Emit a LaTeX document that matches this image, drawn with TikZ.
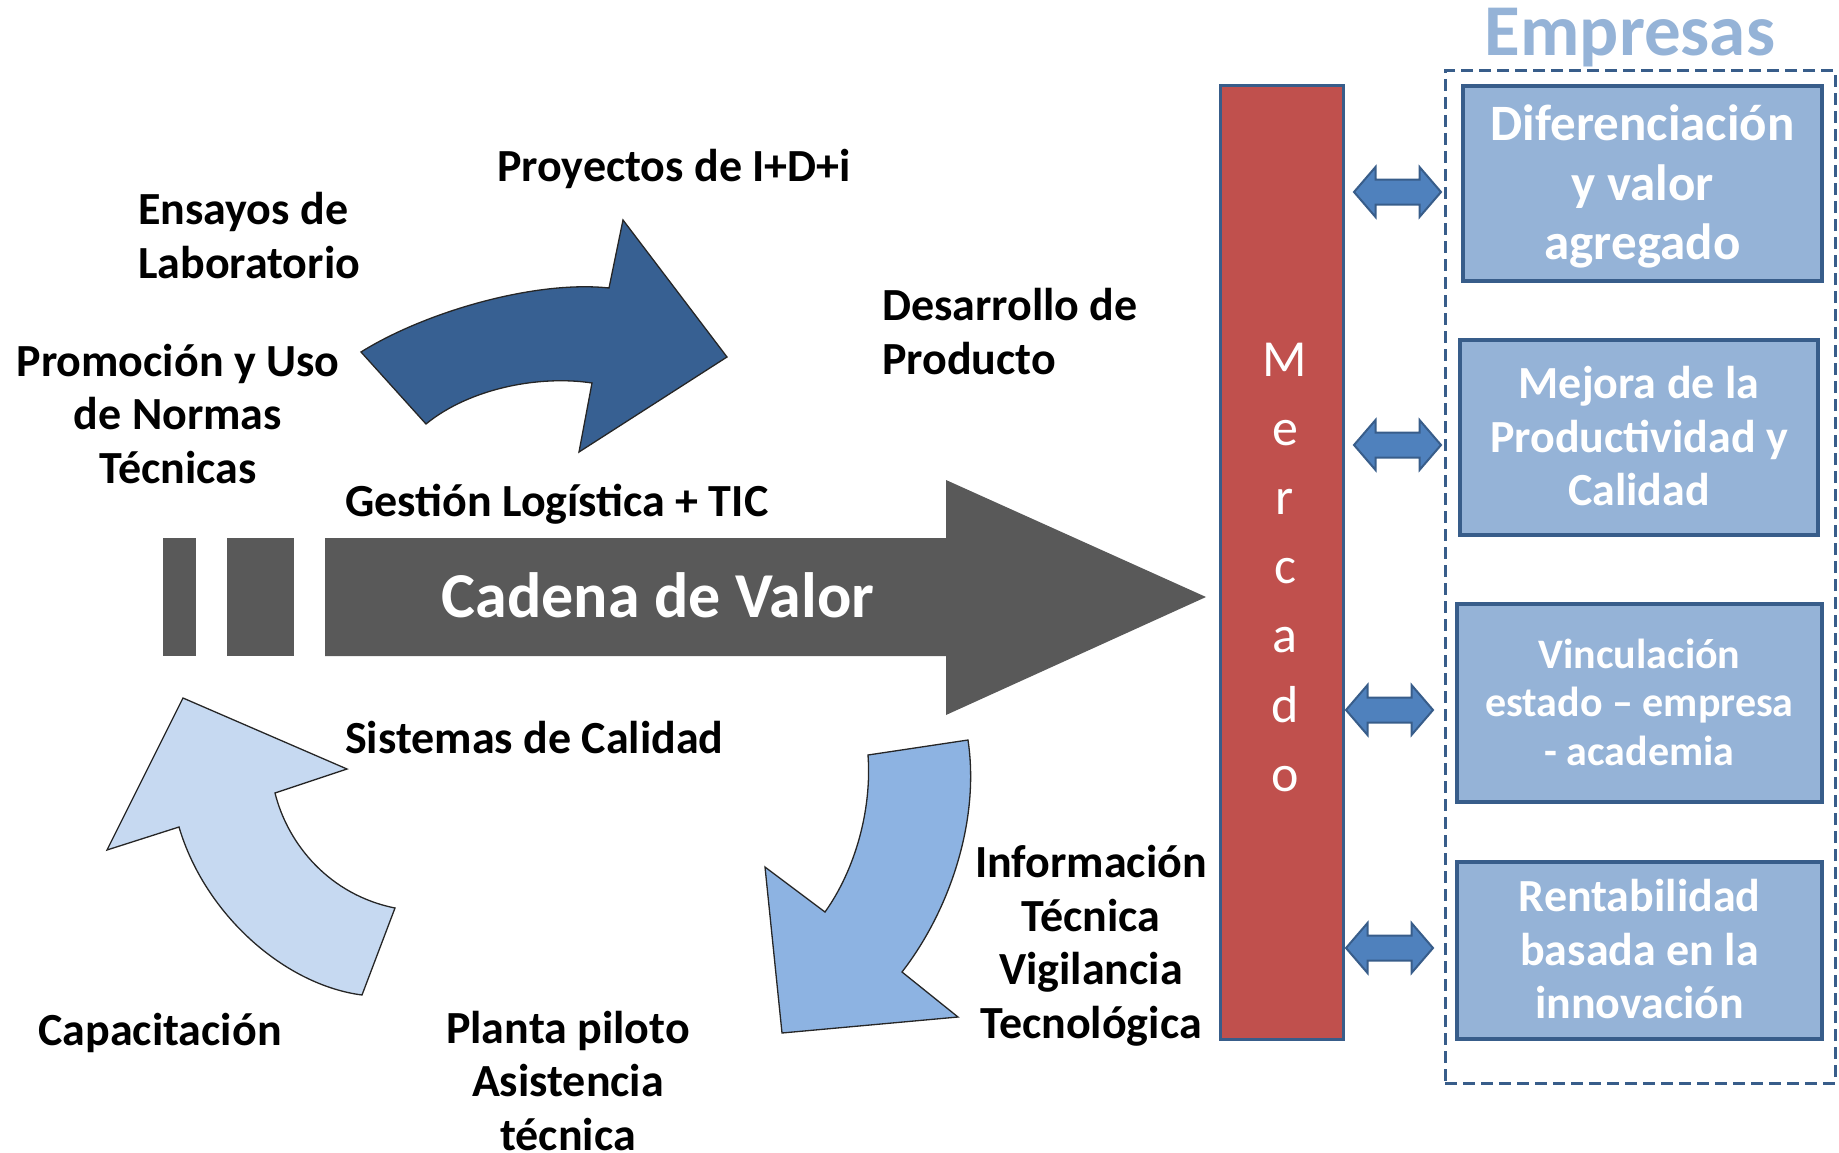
\documentclass[tikz,border=0pt]{standalone}
\usepackage{fontspec}
\setmainfont{Carlito}
\definecolor{grayarrow}{HTML}{595959}
\definecolor{darkblue}{HTML}{376092}
\definecolor{midblue}{HTML}{8DB3E2}
\definecolor{paleblue}{HTML}{C6D9F1}
\definecolor{mredfill}{HTML}{C0504D}
\definecolor{edgeblue}{HTML}{385D8A}
\definecolor{boxfill}{HTML}{95B3D7}
\definecolor{accblue}{HTML}{4F81BD}
\newcommand{\sL}{\rule[-0.25em]{0pt}{1.15em}}
\begin{document}
\begin{tikzpicture}[x=1pt,y=-1pt,
  lbl/.style={inner sep=0pt, font=\bfseries\fontsize{46}{53.5}\selectfont, align=center},
  lbll/.style={lbl, align=left},
  curvedarrow/.style={draw=black!85, line width=1.3pt, line join=miter},
  empbox/.style={draw=edgeblue, line width=4pt, fill=boxfill, text=white, inner sep=0pt, align=center},
  dblarrow/.style={draw=edgeblue, line width=2pt, fill=accblue, line join=miter},
  mletter/.style={font=\fontsize{52}{54}\selectfont, text=white, anchor=base, inner sep=0pt}
]
\path[use as bounding box] (0,0) rectangle (1839,1153);

% value chain arrow
\fill[grayarrow] (163,538) rectangle (196,656);
\fill[grayarrow] (227,538) rectangle (294,656);
\fill[grayarrow] (325,538) -- (946,538) -- (946,480) -- (1206,597) -- (946,715) -- (946,656) -- (325,656) -- cycle;
\node[inner sep=0pt, text=white, font=\bfseries\fontsize{64}{70}\selectfont, anchor=base] (cadena) at (658,617) {Cadena de Valor};

% curved arrows
\draw[curvedarrow, fill=darkblue] (361,352) .. controls (425,312) and (535,280) .. (609,288) -- (623,220) -- (727,357) -- (579,452) -- (592,383) .. controls (540,375) and (470,388) .. (426,424) -- cycle;
\draw[curvedarrow, fill=midblue] (868,755) -- (968,740) .. controls (980,820) and (950,910) .. (902,972) -- (958,1017) -- (782,1033) -- (765,867) -- (825,912) .. controls (855,870) and (872,810) .. (868,755) -- cycle;
\draw[curvedarrow, fill=paleblue] (395,908) -- (362,995) .. controls (285,985) and (205,915) .. (179,827) -- (107,850) -- (183,698) -- (347,769) -- (275,793) .. controls (288,845) and (330,895) .. (395,908) -- cycle;

% labels
\node[lbll, anchor=west] (ensayos) at (138,236.5) {\sL Ensayos de\\\sL Laboratorio};
\node[lbl] (normas) at (178,415) {\sL Promoción y Uso\\\sL de Normas\\\sL Técnicas};
\node[lbl, anchor=base] (proyectos) at (674,181) {Proyectos de I+D+i};
\node[lbll, anchor=west] (desarrollo) at (882,332.5) {\sL Desarrollo de\\\sL Producto};
\node[lbl, anchor=base west] (gestion) at (345,516) {Gestión Logística + TIC};
\node[lbl, anchor=base west] (sistemas) at (345,753) {Sistemas de Calidad};
\node[lbl] (info) at (1091,943) {\sL Información\\\sL Técnica\\\sL Vigilancia\\\sL Tecnológica};
\node[lbl] (planta) at (568,1082) {\sL Planta piloto\\\sL Asistencia\\\sL técnica};
\node[lbl, anchor=base] (capac) at (160,1045) {Capacitación};

% Mercado
\node[draw=edgeblue, line width=3pt, fill=mredfill, minimum width=123pt, minimum height=953pt, inner sep=0pt] (mercado) at (1281.5,562.5) {};
\foreach \ch [count=\i] in {M,e,r,c,a,d,o}
  \node[mletter] (merc\i) at (1285,{376+69.2*(\i-1)}) {\ch};

% Empresas
\node[font=\bfseries\fontsize{73}{75}\selectfont, text=boxfill, anchor=base, inner sep=0pt] (emptitle) at (1630,56) {Empresas};
\node[draw=edgeblue, line width=3pt, dash pattern=on 12pt off 6pt, minimum width=390pt, minimum height=1012pt, inner sep=0pt] (empframe) at (1640,577) {};

\node[empbox, font=\bfseries\fontsize{51}{59.5}\selectfont, minimum width=359pt, minimum height=195pt] (b1) at (1642.5,183.5) {\sL Diferenciación\\\sL y valor\\\sL agregado};
\node[empbox, font=\bfseries\fontsize{46}{53.5}\selectfont, minimum width=358pt, minimum height=195pt] (b2) at (1639,437.5) {\sL Mejora de la\\\sL Productividad y\\\sL Calidad};
\node[empbox, font=\bfseries\fontsize{42}{48.5}\selectfont, minimum width=365pt, minimum height=198pt] (b3) at (1639.5,703) {\sL Vinculación\\\sL estado – empresa\\\sL - academia};
\node[empbox, font=\bfseries\fontsize{46}{53.5}\selectfont, minimum width=365pt, minimum height=177pt] (b4) at (1639.5,950.5) {\sL Rentabilidad\\\sL basada en la\\\sL innovación};

% double arrows
\foreach \L/\c in {1354/192, 1354/445, 1346/710, 1346/948}
  \draw[dblarrow] (\L,\c) -- ++(21.5,-25) -- ++(0,12.5) -- ++(44,0) -- ++(0,-12.5) -- ++(21.5,25) -- ++(-21.5,25) -- ++(0,-12.5) -- ++(-44,0) -- ++(0,12.5) -- cycle;
\end{tikzpicture}
\end{document}
